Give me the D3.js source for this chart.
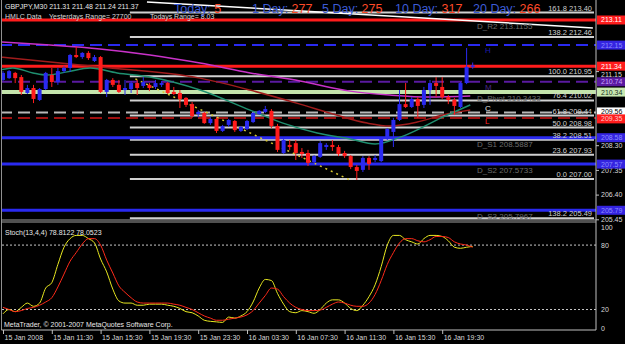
<!DOCTYPE html>
<html><head><meta charset="utf-8">
<script src="https://cdn.jsdelivr.net/npm/d3@7"></script>
<style>
body{margin:0;background:#000;}
svg{display:block;font-family:"Liberation Sans",Arial,sans-serif;}
</style></head><body><div id="chart"></div>
<script>
let width = 625, height = 344;

// GBPJPY M30 bars, 15 Jan 07:30 onwards
let opens  = [210.81,210.88,211.08,210.92,210.31,210.50,210.04,210.46,211.00,210.73,211.15,211.27,211.77,211.69,211.85,211.54,211.69,210.35,210.81,210.62,210.42,210.46,210.69,210.58,210.62,210.54,210.62,210.69,210.35,210.31,210.12,209.88,209.50,209.54,209.15,209.31,208.85,209.08,209.23,208.85,208.92,209.19,209.50,209.58,209.62,209.04,208.00,208.31,208.38,208.04,208.00,207.65,207.85,208.23,208.31,208.23,208.00,207.88,207.46,207.35,207.81,207.73,207.69,208.54,208.81,209.27,209.88,209.77,210.08,209.85,210.42,210.69,210.54,210.15,210.04,209.77,210.69,211.31];
let highs  = [211.15,211.19,211.12,211.00,210.62,210.62,210.50,211.12,211.27,211.27,211.35,211.81,212.08,211.88,211.92,211.77,211.73,210.85,210.88,210.81,210.81,210.77,210.81,210.92,210.69,210.81,210.77,210.73,210.54,210.42,210.15,209.96,209.65,209.58,209.38,209.38,209.08,209.31,209.27,209.04,209.27,209.58,209.65,209.81,209.69,209.12,208.54,208.50,208.50,208.19,208.12,207.92,208.46,208.38,208.50,208.31,208.08,207.92,207.54,207.88,207.88,207.92,208.58,208.96,209.35,210.42,210.69,210.15,210.15,210.54,210.81,210.92,210.92,210.23,210.12,210.73,212.04,211.48];
let lows   = [210.77,210.85,210.69,210.23,210.27,209.92,210.00,210.42,210.54,210.62,211.08,211.12,211.65,211.62,211.58,211.50,210.31,210.15,210.54,210.31,210.23,210.31,210.23,210.50,210.38,210.46,210.54,210.27,210.23,209.73,209.77,209.35,209.38,209.12,209.08,208.77,208.81,209.00,208.81,208.81,208.88,209.15,209.46,209.54,208.96,208.04,207.96,208.12,207.73,207.81,207.50,207.58,207.81,208.12,208.08,207.88,207.81,207.38,206.96,207.27,207.35,207.65,207.65,208.50,208.23,209.23,209.73,209.73,209.35,209.73,209.85,210.15,210.08,209.88,209.46,209.73,210.65,211.24];
let closes = [211.08,211.15,210.88,210.35,210.50,210.08,210.46,211.08,210.73,211.15,211.27,211.77,211.69,211.85,211.65,211.69,210.35,210.81,210.62,210.35,210.50,210.69,210.50,210.73,210.50,210.69,210.69,210.31,210.27,210.08,209.85,209.42,209.58,209.15,209.31,208.85,209.04,209.27,208.88,209.00,209.23,209.54,209.62,209.69,209.04,208.12,208.50,208.23,208.00,207.96,207.62,207.88,208.38,208.31,208.23,207.96,207.88,207.46,207.31,207.81,207.58,207.81,208.54,208.92,209.27,209.88,209.77,210.08,209.81,210.42,210.69,210.58,210.15,210.04,209.81,210.69,211.31,211.37];

// Stochastic %K and %D, one value per bar
let stochK = [16,20,18,22,26,23,26,40,45,62,78,86,89,89,86,82,67,55,39,28,26,26,24,24,25,25,25,24,23,21,18,17,14,10,9,8.5,8,13,12,14,18,27,40,48,47,35,25,18,17,19,18,16.5,20,26,29,29,26,21,19,24,32,43,60,80,89,89,85,83,81,86,89,89,88,84,78,77,78,78.8];
let stochD = [22,20,18,19,21,22,24,27,31,41,53,65,73,81,86,86,80,66,54,42,36,31,27,26,26,26,26,26,25,24,22,20,17,14,12,10,10,11,12,13,15,19,26,33,40,39,32,26,22,20,19,19,19.5,22,25,27,26,24,23,23,26,34,47,62,73,82,86,86,84,83,85,88,88,87,83,81,80,78];

// moving averages read at sample bars: [bar, price]
let maSlow = [[-0.5,212.27],[7.7,212.15],[15.9,212.00],[24.1,211.77],[32.3,211.46],[40.5,211.08],[48.7,210.77],[56.9,210.38],[63.4,210.23],[70,210.15],[76.6,210.19]];
let maMid  = [[-0.5,211.69],[15.9,211.31],[32.3,210.88],[40.5,210.42],[48.7,209.88],[54.1,209.50],[59.7,209.15],[63.4,209.04],[67.9,209.19],[72.1,209.46],[76.6,209.65]];
let maFast = [[-0.5,211.19],[1.6,211.27],[4.9,211.08],[7.2,211.00],[10.5,211.12],[14.3,211.27],[18.7,211.08],[24.1,210.92],[32.3,210.42],[40.5,209.65],[45.9,209.15],[51.5,208.77],[56.9,208.54],[61,208.35],[65.6,208.65],[72.1,209.38],[76.6,209.85]];

// trend lines: [bar, price]
let whiteTrend = [[23.6,213.81],[96.7,212.81]];
let yellowTrend = [[21.7,210.85],[56.9,206.96]];

// daily pivots
let pivotNames  = ["D_R2","D_R1","D_Pivot","D_S1","D_S2","D_S3"];
let pivotValues = [213.1155,211.34,210.3433,208.5887,207.5733,205.7967];
let pivotShowText = [true,false,true,true,true,true];

// yesterday H M C L
let hmlcNames  = ["H","M","C","L"];
let hmlcValues = [212.15,210.74,209.56,209.35];

// fibonacci
let fiboNames  = ["161.8","138.2","100.0","76.4","61.8","50.0","38.2","23.6","0.0","138.2"];
let fiboValues = [213.40,212.46,210.95,210.02,209.44,208.98,208.51,207.93,207.00,205.49];

let priceTicks = [205.45,206.40,207.35,208.30,211.15];
let stochTicks = [0,20,80,100];
let timeTickBars = [0,8,16,24,32,40,48,56,64,72];
let timeLabels = ["15 Jan 2008","15 Jan 11:30","15 Jan 15:30","15 Jan 19:30","15 Jan 23:30","16 Jan 03:30","16 Jan 07:30","16 Jan 11:30","16 Jan 15:30","16 Jan 19:30"];

let rangeNames = ["Today:","1 Day:","5 Day:","10 Day:","20 Day:"];
let rangeValues = [5,277,275,317,266];

// ---- layout
let axisX = 596;
let mainBottom = 220;
let stochTop = 222, stochBottom = 330;
let blue = "#2a2af0", red = "#ff1c1c";

let svg = d3.select("#chart").append("svg")
    .attr("width", width).attr("height", height)
    .style("background", "#000");

let x = d3.scaleLinear().domain([0, 77]).range([3, 472.7]);
let y = d3.scaleLinear().domain([207, 212]).range([179, 49]);
let ys = d3.scaleLinear().domain([0, 100]).range([331, 223.6]);

svg.append("clipPath").attr("id", "mainClip")
    .append("rect").attr("x", 2).attr("y", 0).attr("width", axisX - 2).attr("height", mainBottom);
svg.append("clipPath").attr("id", "stochClip")
    .append("rect").attr("x", 2).attr("y", stochTop).attr("width", axisX - 2).attr("height", stochBottom - stochTop);

let main = svg.append("g").attr("clip-path", "url(#mainClip)");

// hmlc dashed lines
let hmlcColors = ["#2a2af0", "#5a1aa0", "#b8b8b8", "#a01010"];
main.selectAll(".hmlc").data(hmlcValues).join("line")
    .attr("x1", 0).attr("x2", axisX)
    .attr("y1", d => y(d)).attr("y2", d => y(d))
    .attr("stroke", (d, i) => hmlcColors[i])
    .attr("stroke-width", 2)
    .attr("stroke-dasharray", "12,6");

// fibo lines
let fiboStart = 20.8;
main.selectAll(".fibo").data(fiboValues).join("line")
    .attr("x1", x(fiboStart)).attr("x2", axisX - 2)
    .attr("y1", d => y(d)).attr("y2", d => y(d))
    .attr("stroke", "#d0d0d0").attr("stroke-width", 2);

// pivot lines
let pivotColors = [red, red, "#c4e4ac", blue, blue, blue];
main.selectAll(".pivot").data(pivotValues).join("line")
    .attr("x1", 0).attr("x2", axisX)
    .attr("y1", d => y(d)).attr("y2", d => y(d))
    .attr("stroke", (d, i) => pivotColors[i])
    .attr("stroke-width", (d, i) => i == 2 ? 4 : 3);

// moving averages
let maLine = d3.line().x(d => x(d[0])).y(d => y(d[1])).curve(d3.curveMonotoneX);
main.append("path").attr("d", maLine(maSlow)).attr("fill", "none").attr("stroke", "#c832c8").attr("stroke-width", 1.5);
main.append("path").attr("d", maLine(maMid)).attr("fill", "none").attr("stroke", "#a01c1c").attr("stroke-width", 1.5);
main.append("path").attr("d", maLine(maFast)).attr("fill", "none").attr("stroke", "#1f8f6f").attr("stroke-width", 1.5);

// trend lines
main.append("line")
    .attr("x1", x(whiteTrend[0][0])).attr("y1", y(whiteTrend[0][1]))
    .attr("x2", x(whiteTrend[1][0])).attr("y2", y(whiteTrend[1][1]))
    .attr("stroke", "#ffffff").attr("stroke-width", 1.5);
main.append("line")
    .attr("x1", x(yellowTrend[0][0])).attr("y1", y(yellowTrend[0][1]))
    .attr("x2", x(yellowTrend[1][0])).attr("y2", y(yellowTrend[1][1]))
    .attr("stroke", "#d8c830").attr("stroke-width", 1.5).attr("stroke-dasharray", "2,4");

// candles
let bars = opens.map((o, i) => ({i: i, o: o, h: highs[i], l: lows[i], c: closes[i]}));
let cg = main.selectAll(".candle").data(bars).join("g");
cg.append("line")
    .attr("x1", d => x(d.i)).attr("x2", d => x(d.i))
    .attr("y1", d => y(d.h)).attr("y2", d => y(d.l))
    .attr("stroke", d => d.c >= d.o ? blue : red).attr("stroke-width", 1);
cg.append("rect")
    .attr("x", d => x(d.i) - 2).attr("width", 4)
    .attr("y", d => y(Math.max(d.o, d.c)))
    .attr("height", d => Math.max(1.5, Math.abs(y(d.o) - y(d.c))))
    .attr("fill", d => d.c >= d.o ? blue : red);

// fibo labels
main.selectAll(".fiboText").data(fiboValues).join("text")
    .attr("x", axisX - 4).attr("y", d => y(d) - 2)
    .attr("text-anchor", "end").attr("font-size", 7.5).attr("fill", "#d0d0d0")
    .text((d, i) => fiboNames[i] + " " + d.toFixed(2));

// pivot labels
main.selectAll(".pivotText").data(pivotValues).join("text")
    .attr("x", 477).attr("y", d => y(d) + 9)
    .attr("font-size", 8).attr("fill", "#6c6c6c")
    .text((d, i) => pivotShowText[i] ? pivotNames[i] + " " + d.toFixed(4) : "");

// HMLC letters
let letterColors = ["#1c1ca8", "#4a2a80", "#e0e0e0", "#ff2020"];
main.selectAll(".hmlcText").data(hmlcValues).join("text")
    .attr("x", 485).attr("y", (d, i) => y(d) + [8, 8, -1, 6][i])
    .attr("font-size", 8).attr("fill", (d, i) => letterColors[i])
    .text((d, i) => hmlcNames[i]);

// header
svg.append("text").attr("x", 5).attr("y", 9).attr("font-size", 7).attr("fill", "#e8e8e8")
    .text("GBPJPY,M30  211.31 211.48 211.24 211.37");
svg.append("text").attr("x", 5).attr("y", 18.5).attr("font-size", 7).attr("fill", "#d8d8d8")
    .text("HMLC Data");
svg.append("text").attr("x", 49).attr("y", 18.5).attr("font-size", 7).attr("fill", "#d8d8d8")
    .text("Yesterdays Range= 27700");
svg.append("text").attr("x", 150).attr("y", 18.5).attr("font-size", 7).attr("fill", "#d8d8d8")
    .text("Todays Range= 8.03");

let rangeX = [174, 252, 322, 395, 473];
let rt = svg.selectAll(".range").data(rangeValues).join("text")
    .attr("x", (d, i) => rangeX[i]).attr("y", 12.5)
    .attr("font-size", 12.5);
rt.append("tspan").attr("fill", "#3c5cd8").text((d, i) => rangeNames[i] + " ");
rt.append("tspan").attr("fill", "#ff4a28").text(d => d);

// price axis
let priceAxis = svg.append("g").attr("transform", "translate(" + axisX + ",0)")
    .call(d3.axisRight(y).tickValues(priceTicks).tickSize(3).tickFormat(d3.format(".2f")));
priceAxis.select(".domain").remove();
priceAxis.selectAll("line").attr("stroke", "#c0c0c0");
priceAxis.selectAll("text").attr("fill", "#d8d8d8").attr("font-size", 7).attr("x", 5)
    .attr("font-family", "Liberation Sans, Arial, sans-serif")
    .attr("dy", d => d > 211 ? "0.7em" : "0.32em");

// label boxes on price axis
let boxValues = pivotValues.concat(hmlcValues);
let boxFill = ["#ff1c1c", "#ff1c1c", "#c8e8b0", "#3424e0", "#3424e0", "#3424e0", "#3424e0", "#5a1aa0", "#ffffff", "#ff1c1c"];
let boxText = ["#ffffff", "#ffffff", "#203020", "#8c8cff", "#8c8cff", "#8c8cff", "#8c8cff", "#c8a8ff", "#000000", "#ffc8c8"];
let boxNudge = [0, 0, 0, 0, 0, 0, 0, 0, -0.5, 1];
let bg = svg.selectAll(".box").data(boxValues).join("g");
bg.append("rect").attr("x", axisX + 1).attr("y", (d, i) => y(d) - 4.5 + boxNudge[i]).attr("width", width - axisX).attr("height", 9)
    .attr("fill", (d, i) => boxFill[i]);
bg.append("text").attr("x", axisX + 5).attr("y", (d, i) => y(d) + 2.5 + boxNudge[i]).attr("font-size", 7)
    .attr("fill", (d, i) => boxText[i]).text(d => (Math.floor(d * 100 + 1e-6) / 100).toFixed(2));

// stochastic panel
let stoch = svg.append("g").attr("clip-path", "url(#stochClip)");
stoch.selectAll(".lvl").data([20, 80]).join("line")
    .attr("x1", 2).attr("x2", axisX).attr("y1", d => ys(d)).attr("y2", d => ys(d))
    .attr("stroke", "#c8c8c8").attr("stroke-dasharray", "2,2");
let sLine = d3.line().x((d, i) => x(i)).y(d => ys(d)).curve(d3.curveMonotoneX);
stoch.append("path").attr("d", sLine(stochK)).attr("fill", "none").attr("stroke", "#e8e820").attr("stroke-width", 1);
stoch.append("path").attr("d", sLine(stochD)).attr("fill", "none").attr("stroke", "#ff2a1a").attr("stroke-width", 1);

svg.append("text").attr("x", 5).attr("y", 235).attr("font-size", 7).attr("fill", "#e8e8e8")
    .text("Stoch(13,4,4) 78.8122 78.0523");
svg.append("text").attr("x", 4).attr("y", 327).attr("font-size", 7).attr("fill", "#e8e8e8")
    .text("MetaTrader, \u00a9 2001-2007 MetaQuotes Software Corp.");

let stochAxis = svg.append("g").attr("transform", "translate(" + axisX + ",0)")
    .call(d3.axisRight(ys).tickValues(stochTicks).tickSize(0));
stochAxis.select(".domain").remove();
stochAxis.selectAll("text").attr("fill", "#d8d8d8").attr("font-size", 7).attr("x", 5)
    .attr("font-family", "Liberation Sans, Arial, sans-serif")
    .attr("dy", (d) => d == 100 ? "0.9em" : d == 0 ? "-0.1em" : "0.32em");

// frames
svg.append("line").attr("x1", 1.5).attr("x2", 1.5).attr("y1", 0).attr("y2", stochBottom).attr("stroke", "#909090");
svg.append("line").attr("x1", axisX).attr("x2", axisX).attr("y1", 0).attr("y2", stochBottom).attr("stroke", "#c0c0c0");
svg.append("line").attr("x1", 1.5).attr("x2", axisX).attr("y1", mainBottom).attr("y2", mainBottom).attr("stroke", "#a0a0a0");
svg.append("line").attr("x1", 1.5).attr("x2", axisX).attr("y1", stochTop).attr("y2", stochTop).attr("stroke", "#a0a0a0");

// time axis
let timeAxis = svg.append("g").attr("transform", "translate(0," + stochBottom + ")")
    .call(d3.axisBottom(x).tickValues(timeTickBars).tickSize(4).tickFormat((d, i) => timeLabels[i]));
timeAxis.select(".domain").attr("stroke", "#c0c0c0").attr("d", "M1.5,0H" + axisX);
timeAxis.selectAll("line").attr("stroke", "#c0c0c0");
timeAxis.selectAll("text").attr("fill", "#d8d8d8").attr("font-size", 7)
    .attr("text-anchor", "start").attr("x", 1).attr("y", 5)
    .attr("font-family", "Liberation Sans, Arial, sans-serif");
</script></body></html>
